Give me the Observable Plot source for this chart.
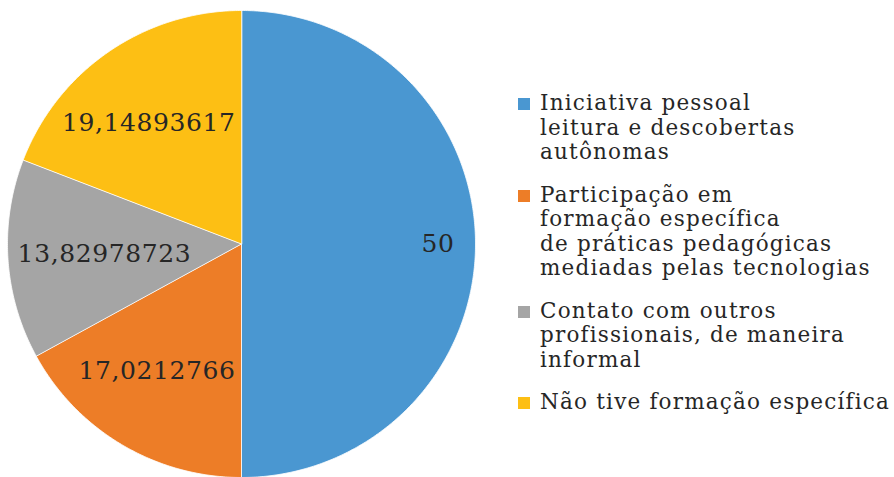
<!DOCTYPE html>
<html><head><meta charset="utf-8">
<script src="https://cdn.jsdelivr.net/npm/d3@7"></script>
<script src="https://cdn.jsdelivr.net/npm/@observablehq/plot@0.6"></script>
<style>
body{margin:0;background:#fff;}
#wrap{position:relative;width:894px;height:477px;font-family:"DejaVu Serif";overflow:hidden;}
#wrap svg{position:absolute;left:0;top:0;}
#legend{position:absolute;left:518px;top:91px;color:#262626;font-size:21.5px;letter-spacing:1.2px;line-height:24.5px;}
.item{display:flex;align-items:flex-start;margin-bottom:18px;white-space:nowrap;}
.sw{width:12px;height:12px;margin-top:7px;margin-right:10px;flex:none;}
</style></head><body><div id="wrap"></div>
<script>
const categories = [
  "Iniciativa pessoal leitura e descobertas autônomas",
  "Participação em formação específica de práticas pedagógicas mediadas pelas tecnologias",
  "Contato com outros profissionais, de maneira informal",
  "Não tive formação específica"
];
const legendLines = [
  ["Iniciativa pessoal", "leitura e descobertas", "autônomas"],
  ["Participação em", "formação específica", "de práticas pedagógicas", "mediadas pelas tecnologias"],
  ["Contato com outros", "profissionais, de maneira", "informal"],
  ["Não tive formação específica"]
];
const values = [50, 17.0212766, 13.82978723, 19.14893617];
const valueLabels = ["50", "17,0212766", "13,82978723", "19,14893617"];
const colors = ["#4a97d1", "#ed7d27", "#a5a5a5", "#fdbf14"];

const W = 894, H = 477, mL = 7, mR = 419, mT = 10, mB = 0;
const R = (W - mL - mR) / 2; // pixels per data unit
const labelFont = 25, labelSpacing = 0.6;

const pie = d3.pie().sort(null).value(d => d.value).startAngle(0).endAngle(2 * Math.PI);
const slices = pie(categories.map((c, i) => ({cat: c, value: values[i], label: valueLabels[i]})));

const pts = [];
for (const s of slices) {
  const n = Math.max(2, Math.ceil((s.endAngle - s.startAngle) / (Math.PI / 360)));
  pts.push({cat: s.data.cat, x: 0, y: 0});
  for (let k = 0; k <= n; k++) {
    const a = s.startAngle + (s.endAngle - s.startAngle) * k / n;
    pts.push({cat: s.data.cat, x: Math.sin(a), y: Math.cos(a)});
  }
}
// best-fit style placement: mid-angle, then keep the label box inside its slice/circle
const ctx = document.createElement("canvas").getContext("2d");
ctx.font = `${labelFont}px "DejaVu Serif"`;
const labels = slices.map(s => {
  const a = (s.startAngle + s.endAngle) / 2;
  const big = (s.endAngle - s.startAngle) >= Math.PI - 1e-6;
  const r = big ? 0.84 : 0.63;
  let x = r * Math.sin(a), y = r * Math.cos(a);
  const w = (ctx.measureText(s.data.label).width + s.data.label.length * labelSpacing) / R;
  const h = 26 / R;
  if (!big) {
    if (x < 0 && x + w / 2 > -6 / R) x = -6 / R - w / 2;
    const yFar = Math.abs(y) + h / 2;
    const edge = -Math.sqrt(Math.max(0, 1 - yFar * yFar)) + 9 / R;
    if (x - w / 2 < edge) x = edge + w / 2;
  }
  return {label: s.data.label, x, y};
});

const chart = Plot.plot({
  width: W, height: H,
  marginLeft: mL, marginRight: mR, marginTop: mT, marginBottom: mB,
  x: {domain: [-1, 1], axis: null},
  y: {domain: [-1, 1], axis: null},
  color: {domain: categories, range: colors},
  style: {fontFamily: "DejaVu Serif", background: "transparent", letterSpacing: labelSpacing + "px"},
  marks: [
    Plot.line(pts, {x: "x", y: "y", z: "cat", fill: "cat", stroke: "white", strokeWidth: 0.8, curve: "linear-closed"}),
    Plot.text(labels, {x: "x", y: "y", text: "label", fontSize: labelFont, fill: "#262626", textAnchor: "middle"})
  ]
});
const wrap = document.getElementById("wrap");
wrap.appendChild(chart);
const legend = document.createElement("div");
legend.id = "legend";
legendLines.forEach((lines, i) => {
  const item = document.createElement("div");
  item.className = "item";
  const sw = document.createElement("div");
  sw.className = "sw";
  sw.style.background = colors[i];
  const txt = document.createElement("div");
  txt.innerHTML = lines.join("<br>");
  item.appendChild(sw); item.appendChild(txt);
  legend.appendChild(item);
});
wrap.appendChild(legend);
</script></body></html>
